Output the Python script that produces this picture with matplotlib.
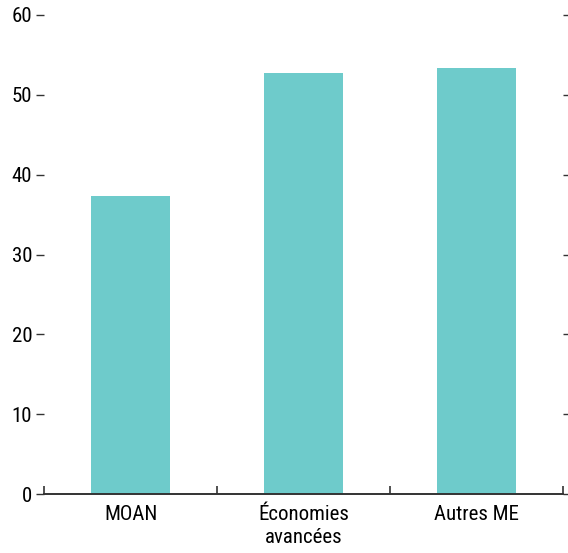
import matplotlib
matplotlib.use("Agg")
import matplotlib.pyplot as plt
from matplotlib.ticker import FixedLocator, NullFormatter

plt.rcParams['font.family'] = ['Roboto Condensed', 'DejaVu Sans']

categories = ["MOAN", "Économies\navancées", "Autres ME"]
values = [37.3, 52.7, 53.3]
yticks = [0, 10, 20, 30, 40, 50, 60]

bar_color = "#6ECBCB"
axis_color = "#333333"

fig = plt.figure(figsize=(5.68, 5.53), dpi=100)
ax = fig.add_axes([44 / 568, 59 / 553, (563 - 44) / 568, (494 - 15) / 553])

x = list(range(len(categories)))
ax.bar(x, values, width=0.46, color=bar_color, zorder=2)

ax.set_xlim(-0.5, len(categories) - 0.5)
ax.set_ylim(0, 60)

# y axis: ticks on both sides, no vertical spines
ax.set_yticks(yticks)
ax.set_yticklabels([str(t) for t in yticks], fontsize=15)
ax.tick_params(axis="y", which="both", direction="out", length=6, width=1,
               color=axis_color, left=True, right=True, labelleft=True,
               labelright=False, pad=2.5)
for side in ("left", "right", "top"):
    ax.spines[side].set_visible(False)
ax.spines["bottom"].set_color(axis_color)
ax.spines["bottom"].set_linewidth(1.4)

# x axis: category labels centred, small upward ticks between categories
ax.set_xticks(x)
ax.set_xticklabels(categories, fontsize=15, linespacing=1.25)
ax.tick_params(axis="x", which="major", length=0, pad=8)
ax.xaxis.set_minor_locator(FixedLocator([-0.5, 0.5, 1.5, 2.5]))
ax.xaxis.set_minor_formatter(NullFormatter())
ax.tick_params(axis="x", which="minor", direction="in", length=6, width=1.2,
               color=axis_color)

fig.savefig("out.png", dpi=100)
